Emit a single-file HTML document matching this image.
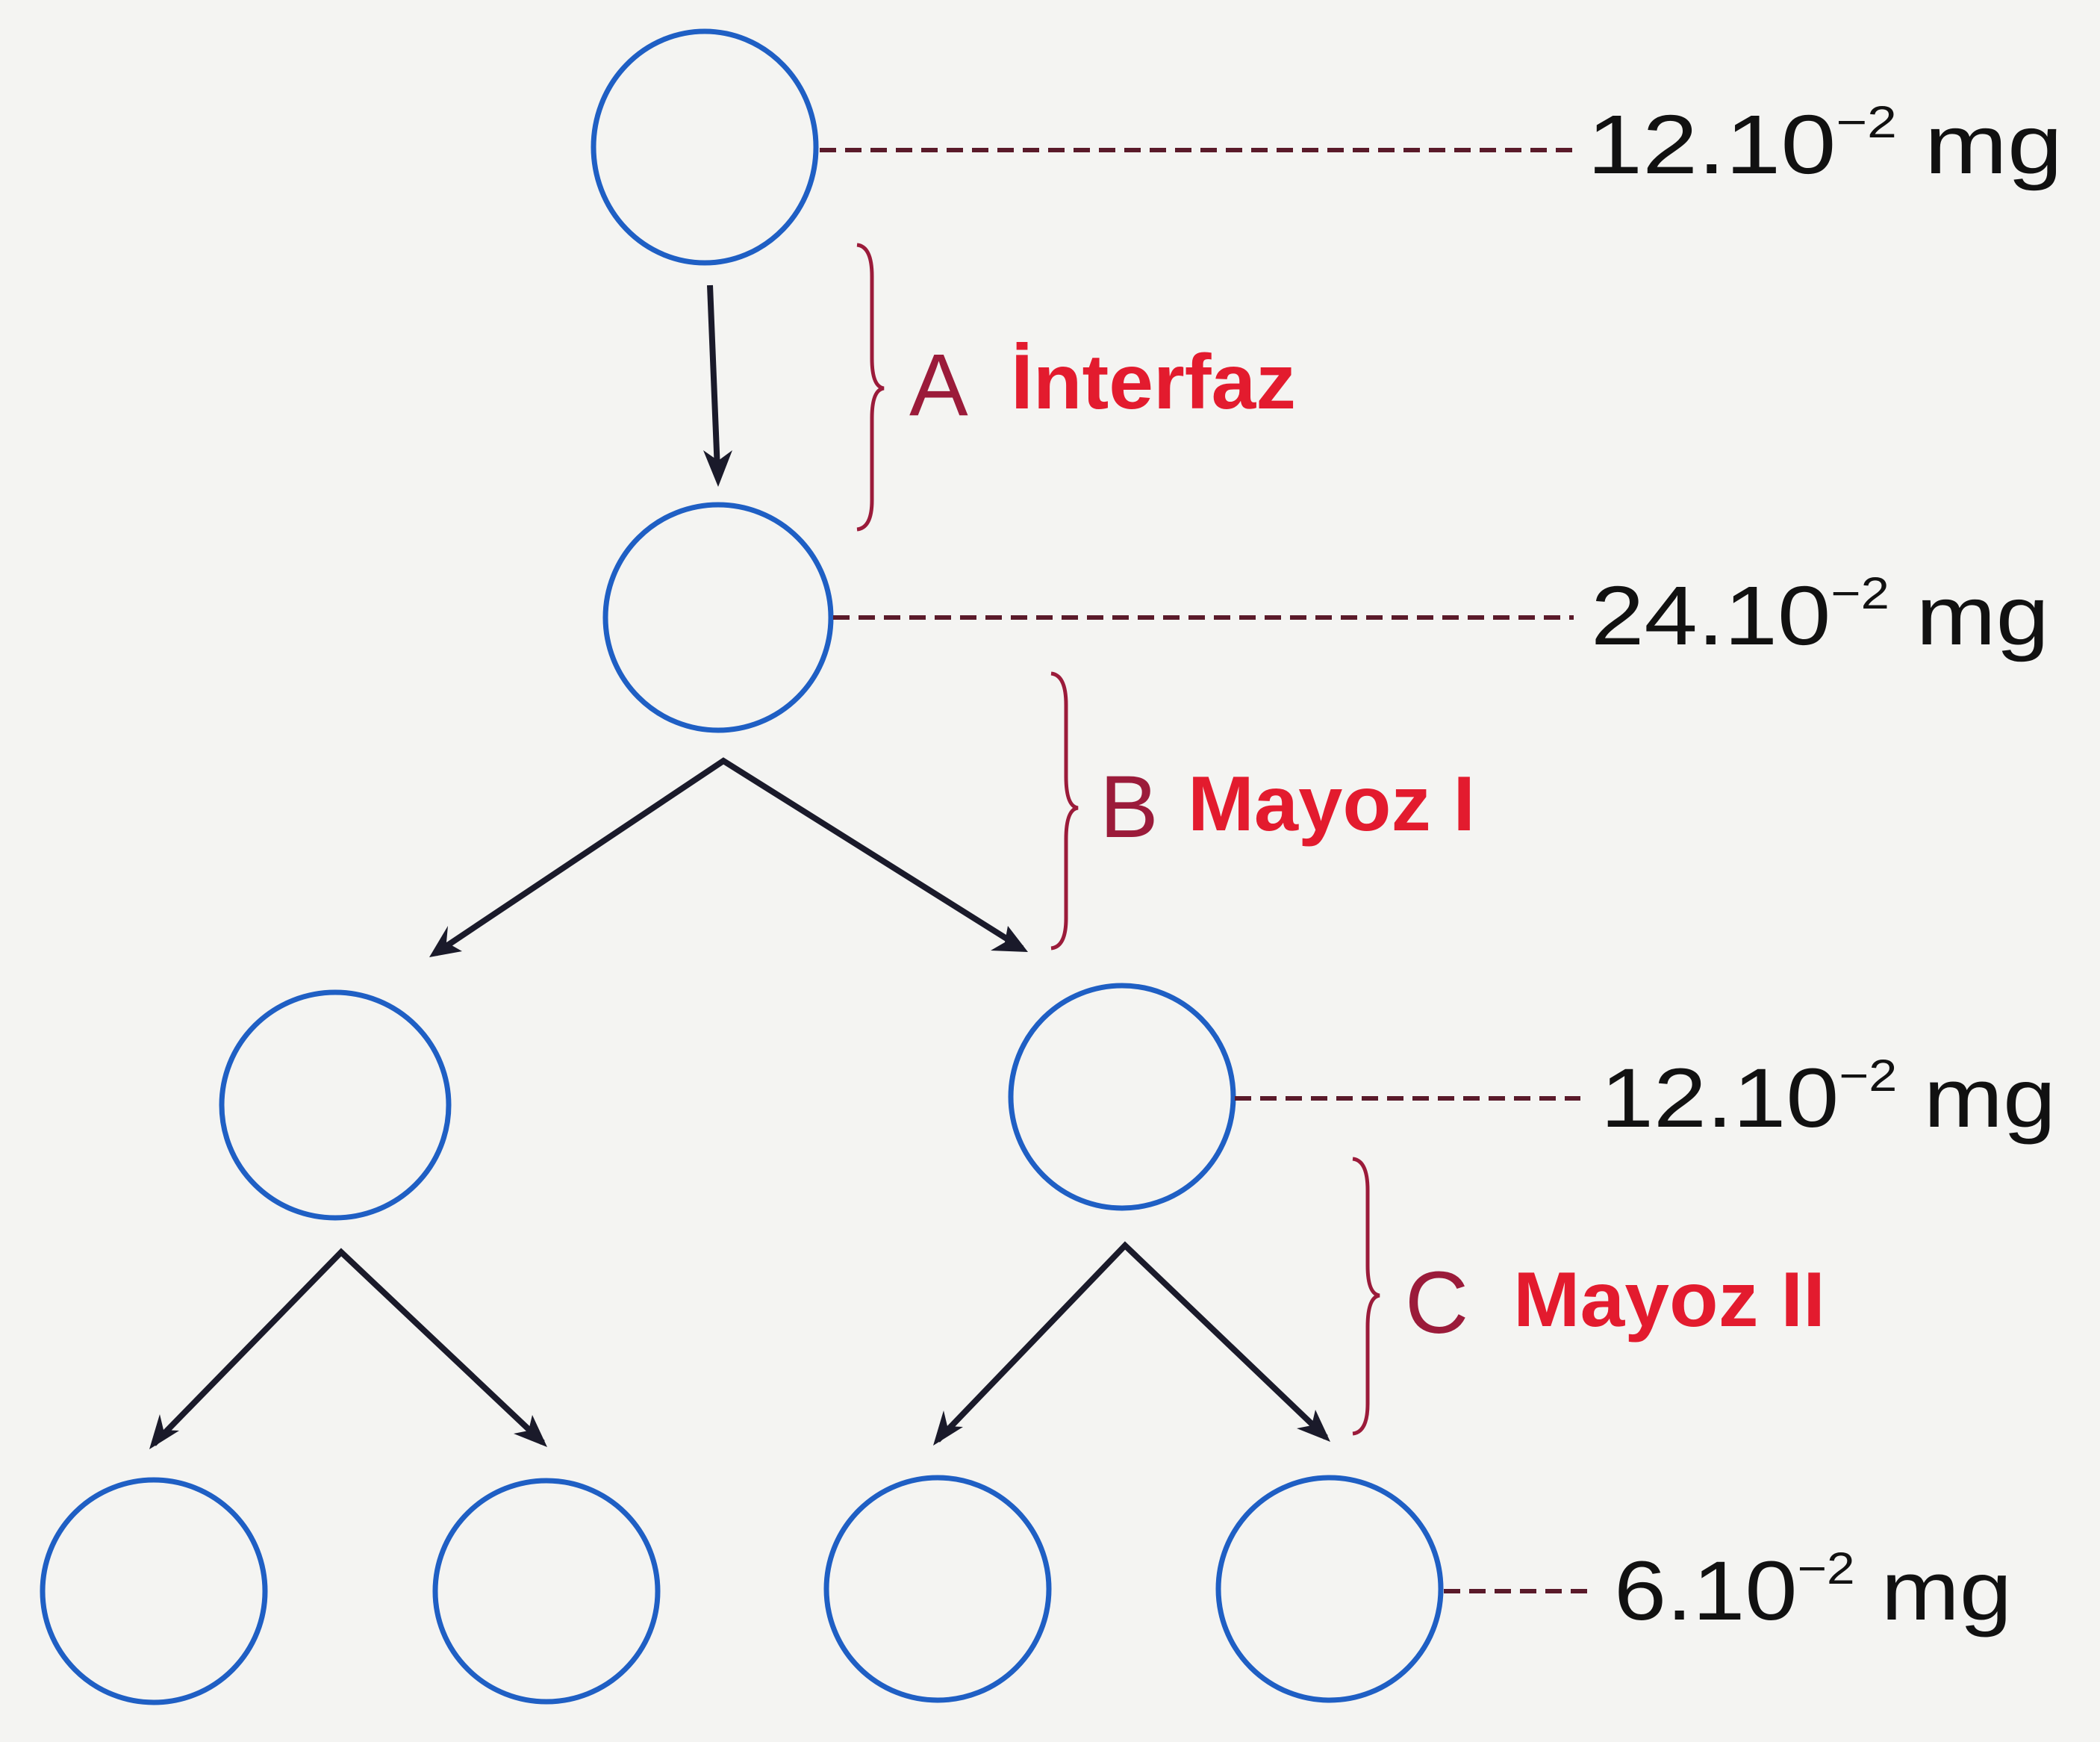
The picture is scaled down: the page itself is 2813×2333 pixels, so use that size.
<!DOCTYPE html>
<html><head><meta charset="utf-8"><style>
html,body{margin:0;padding:0;background:#f4f4f2;}
svg{display:block;}
</style></head><body>
<svg width="2813" height="2333" viewBox="0 0 2813 2333" xmlns="http://www.w3.org/2000/svg">
<rect width="2813" height="2333" fill="#f4f4f2"/>
<g fill="none" stroke="#1f5fc4" stroke-width="7">
<ellipse cx="944" cy="197" rx="149" ry="155"/>
<ellipse cx="962" cy="827" rx="151" ry="151"/>
<ellipse cx="449" cy="1480" rx="152" ry="151"/>
<ellipse cx="1503" cy="1469" rx="149" ry="149"/>
<ellipse cx="206" cy="2131" rx="149" ry="149"/>
<ellipse cx="732" cy="2131" rx="149" ry="148"/>
<ellipse cx="1256" cy="2128" rx="149" ry="149"/>
<ellipse cx="1781" cy="2128" rx="149" ry="149"/>
</g>
<g stroke="#5a1a2a" stroke-width="6" stroke-dasharray="22 12">
<line x1="1098" y1="201" x2="2108" y2="201"/>
<line x1="1116" y1="827" x2="2108" y2="827"/>
<line x1="1654" y1="1471" x2="2117" y2="1471"/>
<line x1="1934" y1="2131" x2="2126" y2="2131"/>
</g>
<g stroke="#1a1a2a" stroke-width="8" fill="none">
<line x1="951" y1="382" x2="961" y2="630"/>
<polyline points="583,1277 969,1019 1369,1270"/>
<polyline points="206,1934 457,1677 727,1932"/>
<polyline points="1256,1929 1507,1668 1776,1925"/>
</g>
<g fill="#1a1a2a">
<polygon points="962,652 942,603 962,617 981,603"/>
<polygon points="575,1282 600,1240 598,1262 619,1274"/>
<polygon points="1377,1275 1327,1273 1346,1262 1350,1240"/>
<polygon points="200,1941 214,1894 219,1915 240,1916"/>
<polygon points="733,1938 688,1920 708,1916 713,1895"/>
<polygon points="1250,1936 1264,1889 1269,1910 1290,1911"/>
<polygon points="1782,1931 1737,1913 1757,1909 1762,1888"/>
</g>
<g fill="none" stroke="#9b1b3a" stroke-width="5">
<path d="M1148,328 Q1168,330 1168,370 L1168,480 Q1168,518 1184,520 Q1168,522 1168,560 L1168,670 Q1168,707 1148,709"/>
<path d="M1408,902 Q1428,904 1428,944 L1428,1040 Q1428,1080 1444,1082 Q1428,1084 1428,1124 L1428,1230 Q1428,1268 1408,1270"/>
<path d="M1812,1552 Q1832,1554 1832,1594 L1832,1695 Q1832,1733 1848,1735 Q1832,1737 1832,1777 L1832,1880 Q1832,1918 1812,1920"/>
</g>
<g font-family="'Liberation Sans',sans-serif" fill="#9b1b3a" font-size="118">
<text x="1218" y="556">A</text>
<text x="1473" y="1121">B</text>
<text x="1882" y="1785">C</text>
</g>
<g font-family="'Liberation Sans',sans-serif" font-weight="bold" fill="#e31b2e" font-size="104">
<text x="1354" y="547" textLength="382" lengthAdjust="spacingAndGlyphs">İnterfaz</text>
<text x="1591" y="1112" textLength="385" lengthAdjust="spacingAndGlyphs">Mayoz I</text>
<text x="2027" y="1776" textLength="418" lengthAdjust="spacingAndGlyphs">Mayoz II</text>
</g>
<g font-family="'Liberation Sans',sans-serif" fill="#111" font-size="112">
<text x="2126" y="232" textLength="637" lengthAdjust="spacingAndGlyphs">12.10<tspan font-size="60" dy="-48">−2</tspan><tspan dy="48"> mg</tspan></text>
<text x="2131" y="863" textLength="614" lengthAdjust="spacingAndGlyphs">24.10<tspan font-size="60" dy="-48">−2</tspan><tspan dy="48"> mg</tspan></text>
<text x="2144" y="1509" textLength="610" lengthAdjust="spacingAndGlyphs">12.10<tspan font-size="60" dy="-48">−2</tspan><tspan dy="48"> mg</tspan></text>
<text x="2162" y="2169" textLength="533" lengthAdjust="spacingAndGlyphs">6.10<tspan font-size="60" dy="-48">−2</tspan><tspan dy="48"> mg</tspan></text>
</g>
</svg>
</body></html>
